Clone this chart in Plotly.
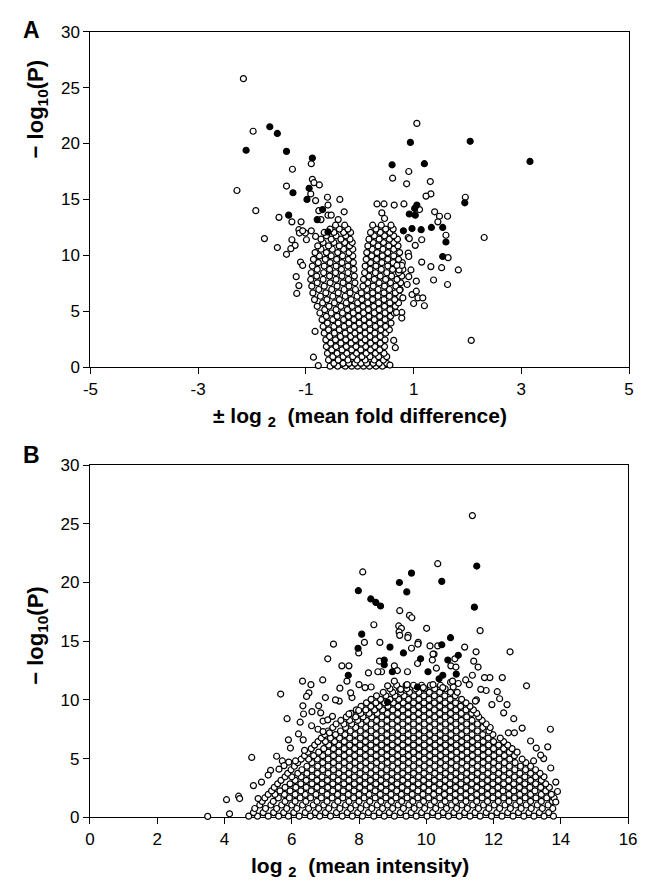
import plotly.graph_objects as go

W, H = 649, 895          # browser window
PAD = 8                  # default body margin of the page
FW, FH = W - 2 * PAD, H - 2 * PAD

# ---------------- Panel A data ----------------
a_open_pts = [
    (-2.16, 25.8), (-1.98, 21.1), (-0.90, 18.2), (-1.25, 17.7), (-2.28, 15.8), (-1.36, 16.2),
    (-0.88, 16.8), (-0.85, 16.5), (-0.75, 16.3), (-0.91, 15.5), (-0.82, 14.9), (-0.60, 15.2),
    (-0.37, 15.0), (-1.93, 14.0), (-1.50, 13.4), (-0.59, 14.5), (-0.76, 14.0), (-0.59, 13.6),
    (-0.53, 13.6), (-0.72, 13.2), (-0.29, 13.9), (-0.40, 13.2), (-1.26, 13.0), (-1.09, 13.0),
    (-1.13, 12.3), (-1.01, 12.0), (-0.90, 12.2), (-0.82, 11.7), (-0.99, 11.4), (-1.26, 11.4),
    (-1.20, 10.9), (-1.28, 10.6), (-1.36, 10.1), (-1.53, 10.7), (-1.77, 11.5), (-1.10, 9.4),
    (-1.06, 9.1), (-1.18, 8.1), (-1.13, 7.3), (-1.17, 6.6), (-0.83, 3.2), (-0.86, 0.9),
    (-0.77, 0.15), (-1.12, 12.0), (-1.06, 12.2),
    (1.06, 21.8), (0.91, 17.5), (0.61, 16.9), (1.31, 16.6), (0.87, 16.4), (1.32, 15.5),
    (1.23, 15.3), (1.96, 15.2), (1.11, 14.1), (0.32, 14.6), (0.45, 14.6), (0.64, 14.5),
    (0.82, 14.6), (0.41, 13.8), (0.46, 13.3), (1.39, 13.9), (1.48, 13.5), (1.63, 13.5),
    (1.45, 13.0), (1.60, 11.8), (2.31, 11.6), (0.90, 11.6), (0.92, 11.5), (1.15, 11.4),
    (1.03, 10.9), (1.64, 9.8), (0.90, 10.2), (0.91, 9.9), (1.15, 9.4), (1.32, 9.0),
    (1.52, 8.9), (1.83, 8.7), (0.95, 8.7), (0.91, 8.1), (1.05, 7.7), (0.88, 7.4),
    (1.37, 7.8), (1.63, 7.4), (0.73, 8.7), (0.78, 9.1), (0.69, 9.1), (0.74, 6.9),
    (0.80, 6.2), (0.97, 6.5), (1.05, 6.8), (1.08, 6.2), (1.17, 6.2), (1.00, 5.7),
    (1.20, 5.5), (0.78, 4.9), (0.78, 4.4), (0.68, 4.9), (2.07, 2.4), (0.63, 2.4),
    (0.66, 1.75), (0.56, 0.2),
]
a_filled_pts = [
    (-1.67, 21.5), (-1.53, 20.9), (-2.11, 19.4), (-1.36, 19.3), (-0.88, 18.7), (-1.24, 15.6),
    (-0.94, 16.0), (-0.98, 15.0), (-1.32, 13.6), (-0.69, 14.1), (-0.79, 13.2), (-0.59, 12.1),
    (0.94, 20.1), (2.05, 20.2), (3.16, 18.4), (0.60, 18.1), (1.20, 18.2), (1.95, 14.7),
    (1.06, 14.5), (1.02, 14.2), (0.92, 13.7), (1.03, 13.6), (0.81, 12.2), (0.97, 12.4),
    (1.14, 12.3), (1.33, 12.5), (1.54, 12.5), (1.60, 11.2), (1.54, 9.9),
]
a_dense_rows = [
    (0.1, [-0.55, -0.41, -0.27, -0.15, -0.04, 0.07, 0.18, 0.3, 0.42]),
    (0.35, [-0.48, -0.31, -0.2, -0.09, 0.02, 0.13, 0.25, 0.36, 0.5]),
    (0.65, [-0.58, -0.4, -0.22, -0.05, 0.1, 0.27, 0.44]),
    (0.95, [-0.5, -0.31, -0.13, 0.04, 0.19, 0.35, 0.5]),
    (1.25, [-0.6, -0.42, -0.24, -0.06, 0.12, 0.29, 0.45]),
    (1.55, [-0.52, -0.33, -0.15, 0.02, 0.2, 0.37]),
    (1.85, [-0.62, -0.44, -0.25, -0.07, 0.11, 0.28, 0.46]),
    (2.15, [-0.54, -0.35, -0.16, 0.03, 0.2, 0.38]),
    (2.45, [-0.63, -0.45, -0.26, -0.08, 0.1, 0.29, 0.47]),
    (2.75, [-0.56, -0.36, -0.17, 0.01, 0.19, 0.38]),
    (3.05, [-0.66, -0.47, -0.27, -0.09, 0.1, 0.28, 0.48]),
    (3.35, [-0.58, -0.38, -0.18, 0.0, 0.19, 0.39, 0.55]),
    (3.65, [-0.68, -0.48, -0.29, -0.1, 0.09, 0.29, 0.48]),
    (3.95, [-0.6, -0.4, -0.2, -0.01, 0.18, 0.38, 0.58]),
    (4.25, [-0.7, -0.5, -0.3, -0.11, 0.08, 0.27, 0.47]),
    (4.55, [-0.62, -0.42, -0.21, -0.02, 0.17, 0.37, 0.57]),
    (4.85, [-0.74, -0.53, -0.32, -0.12, 0.07, 0.27, 0.47, 0.64]),
    (5.15, [-0.65, -0.44, -0.23, -0.03, 0.16, 0.36, 0.56]),
    (5.45, [-0.79, -0.57, -0.35, -0.14, 0.06, 0.26, 0.46, 0.66]),
    (5.75, [-0.69, -0.47, -0.25, -0.04, 0.15, 0.35, 0.56, 0.72]),
    (6.05, [-0.84, -0.61, -0.38, -0.16, 0.04, 0.24, 0.45, 0.65]),
    (6.35, [-0.73, -0.5, -0.27, -0.05, 0.14, 0.34, 0.55, 0.74]),
    (6.65, [-0.87, -0.63, -0.4, -0.18, 0.03, 0.24, 0.45, 0.66]),
    (6.95, [-0.76, -0.52, -0.29, -0.08, 0.13, 0.34, 0.55, 0.75]),
    (7.25, [-0.89, -0.66, -0.42, -0.2, 0.06, 0.25, 0.46, 0.67]),
    (7.55, [-0.79, -0.55, -0.31, -0.09, 0.15, 0.36, 0.57, 0.76]),
    (7.85, [-0.91, -0.68, -0.44, -0.21, 0.07, 0.27, 0.48, 0.69]),
    (8.15, [-0.8, -0.56, -0.33, -0.1, 0.17, 0.38, 0.59, 0.78]),
    (8.45, [-0.9, -0.67, -0.45, -0.22, 0.09, 0.29, 0.5, 0.72]),
    (8.75, [-0.79, -0.56, -0.34, -0.11, 0.19, 0.4, 0.61, 0.8]),
    (9.05, [-0.88, -0.66, -0.44, -0.22, 0.1, 0.3, 0.52, 0.73]),
    (9.35, [-0.77, -0.55, -0.33, -0.12, 0.2, 0.41, 0.62, 0.79]),
    (9.65, [-0.86, -0.64, -0.43, -0.21, 0.12, 0.31, 0.52, 0.72]),
    (9.95, [-0.75, -0.53, -0.32, -0.13, 0.22, 0.42, 0.63]),
    (10.25, [-0.83, -0.62, -0.41, -0.2, 0.13, 0.32, 0.52, 0.74]),
    (10.55, [-0.72, -0.51, -0.3, -0.13, 0.23, 0.43, 0.63]),
    (10.85, [-0.78, -0.58, -0.38, -0.19, 0.15, 0.34, 0.54, 0.71]),
    (11.15, [-0.68, -0.48, -0.28, -0.14, 0.25, 0.44, 0.63]),
    (11.45, [-0.72, -0.53, -0.35, -0.18, 0.17, 0.36, 0.55, 0.7]),
    (11.75, [-0.62, -0.44, -0.26, 0.27, 0.46, 0.63]),
    (12.05, [-0.66, -0.48, -0.3, -0.17, 0.2, 0.38, 0.56]),
    (12.35, [-0.55, -0.38, -0.22, 0.3, 0.48, 0.62]),
    (12.7, [-0.45, -0.28, 0.24, 0.4, 0.58]),
]

# ---------------- Panel B data ----------------
b_open_pts = [
    (3.50, 0.08), (4.06, 1.5), (4.15, 0.3), (4.42, 1.8), (4.45, 1.6), (4.81, 5.1), (4.86, 2.7),
    (5.0, 1.6), (5.37, 4.0), (5.67, 10.5), (5.86, 8.4), (5.96, 5.9), (6.25, 8.1), (6.32, 11.6),
    (6.57, 11.3), (6.51, 10.6), (6.44, 10.3), (6.33, 9.5), (6.92, 11.7), (7.07, 13.5), (7.24, 14.75),
    (7.43, 11.0), (7.49, 12.9), (7.70, 12.9), (7.64, 11.6), (7.99, 14.0), (8.16, 14.9), (8.28, 12.3),
    (6.80, 9.5), (6.86, 8.9), (6.93, 8.2), (7.07, 8.3), (7.21, 8.6), (6.34, 6.6), (6.59, 7.8),
    (6.78, 7.5), (6.93, 7.3), (7.12, 7.2), (6.38, 5.7), (6.11, 4.8), (5.91, 4.7), (5.72, 4.8),
    (5.77, 4.4), (5.62, 4.1), (11.37, 25.7), (10.34, 21.6), (8.11, 20.9), (9.21, 17.6), (9.50, 17.2),
    (9.57, 17.0), (8.44, 16.4), (9.18, 16.3), (9.26, 16.1), (9.19, 15.8), (9.46, 15.5), (10.01, 16.1),
    (11.60, 15.9), (8.62, 14.9), (9.76, 14.9), (9.56, 14.4), (10.11, 14.6), (10.34, 14.6), (11.14, 14.5),
    (12.49, 14.1), (11.48, 14.1), (11.41, 13.3), (11.54, 12.8), (10.23, 13.9), (10.18, 13.4), (10.85, 13.5),
    (10.73, 12.9), (8.61, 13.3), (8.67, 12.4), (9.05, 12.9), (9.14, 12.5), (9.44, 12.4), (9.74, 13.1),
    (12.26, 11.9), (11.89, 11.9), (11.73, 11.9), (12.98, 11.2), (12.11, 10.7), (12.18, 10.1), (11.95, 9.6),
    (11.78, 10.8), (11.62, 10.9), (11.49, 10.0), (11.37, 12.1), (11.17, 11.7), (11.28, 11.3), (10.95, 11.4),
    (10.80, 11.1), (10.72, 11.5), (9.21, 15.5), (9.45, 15.3), (9.75, 14.75), (10.2, 13.9), (10.3, 12.7),
    (8.56, 12.4), (10.88, 12.8), (10.78, 11.6), (9.43, 11.3), (9.05, 11.6), (9.24, 10.9), (9.91, 11.05),
    (10.2, 11.3), (10.49, 11.05), (8.85, 11.2), (8.36, 11.1), (11.46, 9.9), (7.41, 9.9), (7.79, 10.2),
    (8.18, 11.05), (7.7, 8.8), (7.99, 9.1), (13.69, 7.5), (13.27, 5.9), (13.61, 6.0), (13.49, 5.0),
    (13.19, 4.8), (12.44, 7.2), (12.62, 7.2), (5.1, 3.0), (5.3, 3.6), (5.55, 5.2), (5.9, 6.6),
    (6.2, 7.1), (6.35, 8.8), (6.6, 9.0), (7.0, 10.2), (7.3, 10.0), (7.75, 10.6), (8.0, 11.3),
    (12.4, 9.6), (12.6, 8.4), (12.85, 7.6), (13.1, 6.5), (13.4, 5.3), (13.7, 4.2), (13.85, 3.0),
    (13.9, 2.2), (13.85, 1.3), (12.3, 8.9),
]
b_filled_pts = [
    (11.50, 21.4), (9.56, 20.8), (9.20, 20.0), (7.98, 19.3), (10.46, 20.1), (9.42, 19.2),
    (8.35, 18.6), (8.50, 18.3), (8.64, 18.0), (11.43, 17.9), (8.08, 15.6), (7.97, 14.4),
    (10.72, 15.3), (10.46, 14.7), (8.92, 14.5), (9.32, 14.0), (9.83, 13.5), (10.64, 13.4),
    (10.95, 13.8), (8.75, 13.4), (8.75, 13.0), (8.99, 12.4), (10.05, 12.4), (10.49, 12.1),
    (10.38, 11.8), (10.89, 12.2), (7.68, 12.1), (9.74, 11.1), (8.85, 9.8),
]
b_dense_rows = [
    (0.1, [4.72, 4.98, 5.3, 5.61, 5.9, 6.22, 6.55, 6.83, 7.15, 7.5, 7.8, 8.1, 8.44, 8.75, 9.05, 9.4, 9.7, 10.02, 10.35, 10.66, 10.98, 11.3, 11.6, 11.94, 12.25, 12.58, 12.9, 13.2, 13.5, 13.78]),
    (0.4, [4.86, 5.15, 5.46, 5.76, 6.06, 6.4, 6.7, 7.0, 7.33, 7.65, 7.96, 8.28, 8.6, 8.9, 9.23, 9.55, 9.86, 10.19, 10.5, 10.82, 11.14, 11.45, 11.78, 12.1, 12.42, 12.74, 13.05, 13.36, 13.64]),
    (0.75, [4.9, 5.22, 5.55, 5.85, 6.15, 6.5, 6.8, 7.1, 7.43, 7.75, 8.05, 8.38, 8.7, 9.0, 9.32, 9.64, 9.95, 10.28, 10.6, 10.9, 11.22, 11.55, 11.86, 12.18, 12.5, 12.82, 13.12, 13.45, 13.76]),
    (1.05, [5.05, 5.38, 5.7, 6.0, 6.32, 6.64, 6.95, 7.27, 7.6, 7.9, 8.22, 8.54, 8.85, 9.16, 9.48, 9.8, 10.12, 10.44, 10.75, 11.06, 11.38, 11.7, 12.02, 12.34, 12.66, 12.97, 13.3, 13.62]),
    (1.35, [5.12, 5.45, 5.8, 6.1, 6.42, 6.75, 7.05, 7.37, 7.7, 8.0, 8.32, 8.65, 8.96, 9.27, 9.6, 9.92, 10.24, 10.56, 10.87, 11.18, 11.5, 11.82, 12.14, 12.46, 12.78, 13.1, 13.42, 13.75]),
    (1.65, [5.2, 5.6, 5.93, 6.25, 6.56, 6.88, 7.2, 7.52, 7.84, 8.15, 8.48, 8.8, 9.1, 9.43, 9.75, 10.07, 10.4, 10.7, 11.02, 11.34, 11.66, 11.98, 12.3, 12.62, 12.94, 13.26, 13.58, 13.8]),
    (1.95, [5.3, 5.5, 5.78, 6.1, 6.4, 6.72, 7.05, 7.36, 7.68, 8.0, 8.3, 8.63, 8.95, 9.26, 9.58, 9.9, 10.22, 10.54, 10.86, 11.18, 11.5, 11.82, 12.14, 12.46, 12.78, 13.1, 13.42, 13.72]),
    (2.25, [5.4, 5.65, 5.95, 6.27, 6.58, 6.9, 7.22, 7.53, 7.85, 8.17, 8.48, 8.8, 9.12, 9.43, 9.75, 10.07, 10.38, 10.7, 11.02, 11.33, 11.65, 11.97, 12.28, 12.6, 12.92, 13.23, 13.55]),
    (2.55, [5.48, 5.8, 6.12, 6.43, 6.75, 7.07, 7.38, 7.7, 8.02, 8.33, 8.65, 8.97, 9.28, 9.6, 9.92, 10.23, 10.55, 10.87, 11.18, 11.5, 11.82, 12.13, 12.45, 12.77, 13.08, 13.4, 13.66]),
    (2.85, [5.58, 5.95, 6.27, 6.6, 6.9, 7.22, 7.55, 7.86, 8.18, 8.5, 8.8, 9.13, 9.45, 9.76, 10.08, 10.4, 10.7, 11.03, 11.35, 11.66, 11.98, 12.3, 12.6, 12.93, 13.25, 13.55]),
    (3.15, [5.68, 6.1, 6.43, 6.75, 7.06, 7.38, 7.7, 8.02, 8.34, 8.65, 8.97, 9.3, 9.6, 9.92, 10.24, 10.56, 10.87, 11.2, 11.5, 11.82, 12.14, 12.45, 12.77, 13.1, 13.42]),
    (3.45, [5.8, 6.0, 6.28, 6.6, 6.9, 7.23, 7.55, 7.86, 8.18, 8.5, 8.82, 9.14, 9.45, 9.77, 10.08, 10.4, 10.72, 11.03, 11.35, 11.67, 11.98, 12.3, 12.62, 12.93, 13.25, 13.5]),
    (3.75, [5.88, 6.18, 6.45, 6.76, 7.08, 7.4, 7.7, 8.03, 8.35, 8.66, 8.98, 9.3, 9.62, 9.93, 10.25, 10.57, 10.88, 11.2, 11.52, 11.83, 12.15, 12.47, 12.78, 13.1, 13.38]),
    (4.05, [5.98, 6.3, 6.6, 6.92, 7.24, 7.55, 7.87, 8.2, 8.5, 8.82, 9.14, 9.46, 9.78, 10.1, 10.41, 10.73, 11.05, 11.36, 11.68, 12.0, 12.31, 12.63, 12.95, 13.25]),
    (4.35, [6.08, 6.45, 6.77, 7.08, 7.4, 7.72, 8.04, 8.35, 8.67, 9.0, 9.3, 9.62, 9.94, 10.25, 10.57, 10.89, 11.2, 11.52, 11.84, 12.15, 12.47, 12.8, 13.1]),
    (4.65, [6.18, 6.6, 6.92, 7.24, 7.56, 7.88, 8.2, 8.52, 8.84, 9.15, 9.47, 9.79, 10.1, 10.42, 10.74, 11.06, 11.37, 11.69, 12.0, 12.32, 12.64, 12.96]),
    (4.95, [6.28, 6.5, 6.76, 7.08, 7.4, 7.72, 8.03, 8.35, 8.67, 8.99, 9.31, 9.63, 9.94, 10.26, 10.58, 10.9, 11.22, 11.53, 11.85, 12.17, 12.48, 12.85]),
    (5.25, [6.38, 6.65, 6.92, 7.24, 7.56, 7.87, 8.19, 8.51, 8.83, 9.15, 9.47, 9.78, 10.1, 10.42, 10.74, 11.06, 11.37, 11.69, 12.01, 12.32, 12.62]),
    (5.55, [6.48, 6.8, 7.08, 7.4, 7.71, 8.03, 8.35, 8.67, 8.99, 9.3, 9.62, 9.94, 10.26, 10.58, 10.9, 11.21, 11.53, 11.85, 12.17, 12.47, 12.7]),
    (5.85, [6.58, 6.95, 7.24, 7.56, 7.87, 8.19, 8.51, 8.83, 9.15, 9.46, 9.78, 10.1, 10.42, 10.73, 11.05, 11.37, 11.69, 12.0, 12.3, 12.55]),
    (6.15, [6.68, 7.1, 7.4, 7.72, 8.03, 8.35, 8.67, 8.99, 9.3, 9.62, 9.94, 10.26, 10.57, 10.89, 11.21, 11.53, 11.85, 12.15, 12.42]),
    (6.45, [6.78, 7.0, 7.27, 7.56, 7.88, 8.19, 8.51, 8.83, 9.15, 9.46, 9.78, 10.1, 10.41, 10.73, 11.05, 11.37, 11.69, 12.0, 12.3]),
    (6.75, [6.88, 7.15, 7.42, 7.72, 8.04, 8.35, 8.67, 8.99, 9.3, 9.62, 9.94, 10.25, 10.57, 10.89, 11.21, 11.52, 11.84, 12.2]),
    (7.05, [6.98, 7.3, 7.58, 7.88, 8.2, 8.51, 8.83, 9.15, 9.46, 9.78, 10.1, 10.41, 10.73, 11.05, 11.36, 11.68, 11.98]),
    (7.35, [7.08, 7.45, 7.74, 8.04, 8.36, 8.67, 8.99, 9.3, 9.62, 9.94, 10.25, 10.57, 10.89, 11.2, 11.52, 11.86]),
    (7.65, [7.22, 7.6, 7.9, 8.2, 8.51, 8.83, 9.15, 9.46, 9.78, 10.1, 10.41, 10.73, 11.04, 11.36, 11.68, 11.9]),
    (7.95, [7.32, 7.55, 7.78, 8.06, 8.36, 8.67, 8.99, 9.3, 9.62, 9.94, 10.25, 10.57, 10.88, 11.2, 11.52, 11.78]),
    (8.25, [7.46, 7.72, 7.96, 8.22, 8.52, 8.83, 9.14, 9.46, 9.78, 10.09, 10.41, 10.72, 11.04, 11.36, 11.66]),
    (8.55, [7.62, 7.9, 8.12, 8.38, 8.68, 8.99, 9.3, 9.62, 9.93, 10.25, 10.56, 10.88, 11.2, 11.56]),
    (8.85, [7.76, 8.05, 8.3, 8.54, 8.84, 9.15, 9.46, 9.77, 10.09, 10.4, 10.72, 11.04, 11.35, 11.5]),
    (9.15, [7.92, 8.2, 8.46, 8.7, 9.0, 9.3, 9.62, 9.93, 10.24, 10.56, 10.88, 11.18, 11.4]),
    (9.45, [8.06, 8.35, 8.6, 8.86, 9.16, 9.46, 9.77, 10.09, 10.4, 10.72, 11.02, 11.3]),
    (9.75, [8.22, 8.5, 8.76, 9.02, 9.31, 9.62, 9.93, 10.24, 10.56, 10.87, 11.18]),
    (10.05, [8.36, 8.64, 8.92, 9.18, 9.47, 9.78, 10.08, 10.4, 10.71, 11.05]),
    (10.35, [8.52, 8.8, 9.07, 9.34, 9.63, 9.93, 10.24, 10.55, 10.86]),
    (10.65, [8.72, 9.0, 9.24, 9.5, 9.78, 10.09, 10.4, 10.72, 10.92]),
    (10.95, [8.92, 9.2, 9.42, 9.68, 9.95, 10.25, 10.56]),
    (11.25, [9.12, 9.4, 9.62, 9.86, 10.12, 10.42]),
]

a_xticks = [-5, -3, -1, 1, 3, 5]
a_xtick_text = ["-5", "-3", "-1", "1", "3", "5"]
b_xticks = [0, 2, 4, 6, 8, 10, 12, 14, 16]
y_ticks = [0, 5, 10, 15, 20, 25, 30]


def flatten(rows, extra):
    xs, ys = [], []
    for y, xl in rows:
        for x in xl:
            xs.append(x)
            ys.append(y)
    for x, y in extra:
        xs.append(x)
        ys.append(y)
    return xs, ys


ax_open_x, ax_open_y = flatten(a_dense_rows, a_open_pts)
bx_open_x, bx_open_y = flatten(b_dense_rows, b_open_pts)

FONT = "Liberation Sans, Arial, sans-serif"
MS = 6
open_marker = dict(size=MS, color="white", line=dict(color="black", width=1.2))
fill_marker = dict(size=MS, color="black", line=dict(color="black", width=1.2))

fig = go.Figure()
fig.add_trace(go.Scatter(x=ax_open_x, y=ax_open_y, mode="markers", marker=open_marker,
                         xaxis="x", yaxis="y", cliponaxis=False, showlegend=False))
fig.add_trace(go.Scatter(x=[p[0] for p in a_filled_pts], y=[p[1] for p in a_filled_pts],
                         mode="markers", marker=fill_marker, xaxis="x", yaxis="y",
                         cliponaxis=False, showlegend=False))
fig.add_trace(go.Scatter(x=bx_open_x, y=bx_open_y, mode="markers", marker=open_marker,
                         xaxis="x2", yaxis="y2", cliponaxis=False, showlegend=False))
fig.add_trace(go.Scatter(x=[p[0] for p in b_filled_pts], y=[p[1] for p in b_filled_pts],
                         mode="markers", marker=fill_marker, xaxis="x2", yaxis="y2",
                         cliponaxis=False, showlegend=False))


def px_x(p):
    return (p - PAD) / FW


def px_y(p):
    return 1 - (p - PAD) / FH


axis_common = dict(showgrid=False, zeroline=False, showline=True, linecolor="black",
                   linewidth=1.3, mirror=True, ticks="outside", ticklen=6, tickwidth=1.2,
                   tickcolor="black", tickfont=dict(family=FONT, size=17, color="black"),
                   layer="below traces", fixedrange=True)

fig.update_layout(
    width=FW, height=FH, margin=dict(l=0, r=0, t=0, b=0),
    paper_bgcolor="white", plot_bgcolor="white", showlegend=False,
    xaxis=dict(domain=[px_x(84.5), px_x(638)], range=[-5, 5], tickvals=a_xticks,
               ticktext=a_xtick_text, anchor="y", **axis_common),
    yaxis=dict(domain=[px_y(366), px_y(23)], range=[0, 30], tickvals=y_ticks,
               anchor="x", **axis_common),
    xaxis2=dict(domain=[px_x(84), px_x(637)], range=[0, 16], tickvals=b_xticks,
                anchor="y2", ticklabeloverflow="allow", **axis_common),
    yaxis2=dict(domain=[px_y(826), px_y(466)], range=[0, 30], tickvals=y_ticks,
                anchor="x2", **axis_common),
)

xtitle_font = dict(family=FONT, size=21, color="black")
ytitle_font = dict(family=FONT, size=22, color="black")
ann = [
    dict(text="<b>A</b>", x=px_x(24), y=px_y(21), font=dict(family=FONT, size=23, color="black")),
    dict(text="<b>B</b>", x=px_x(24), y=px_y(456), font=dict(family=FONT, size=23, color="black")),
    dict(text="<b>\u2212 log<sub>10</sub>(P)</b>", x=px_x(30), y=px_y(102), textangle=-90, font=ytitle_font),
    dict(text="<b>\u2212 log<sub>10</sub>(P)</b>", x=px_x(30), y=px_y(640), textangle=-90, font=ytitle_font),
    dict(text="<b>\u00b1 log <sub>2</sub>  (mean fold difference)</b>", x=px_x(362), y=px_y(417), font=xtitle_font),
    dict(text="<b>log <sub>2</sub>  (mean intensity)</b>", x=px_x(362), y=px_y(877), font=xtitle_font),
]
for a in ann:
    a.update(xref="paper", yref="paper", showarrow=False, xanchor="center", yanchor="middle")
fig.update_layout(annotations=ann)

fig.write_html("out.html", config={"displayModeBar": False})
